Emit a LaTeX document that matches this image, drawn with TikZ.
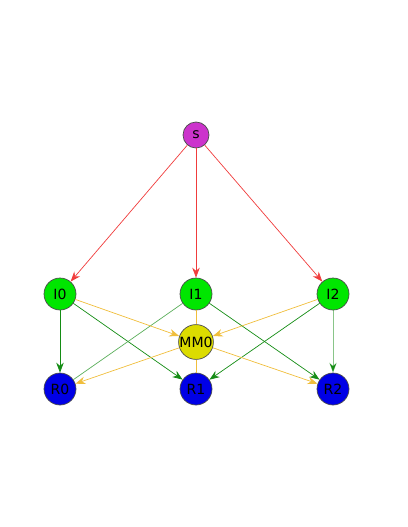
\documentclass[tikz,border=0pt]{standalone}
\usepackage{fontspec}
\setmainfont{DejaVu Sans}
\usepackage{tikz}
\usetikzlibrary{arrows.meta}
\definecolor{srcpurple}{RGB}{204,51,204}
\definecolor{intgreen}{RGB}{0,230,0}
\definecolor{mmyellow}{RGB}{220,220,0}
\definecolor{resblue}{RGB}{0,0,230}
\definecolor{edgered}{RGB}{240,60,60}
\definecolor{edgegreen}{RGB}{20,140,20}
\definecolor{edgeorange}{RGB}{240,190,60}
\tikzset{
    vertex/.style={draw=black!70, circle, inner sep=0pt, minimum size=0.64cm, font=\fontsize{8}{8}\selectfont},
    redarrow/.style={edgered, -{Stealth[length=2mm, width=1.5mm]}},
    greenarrow/.style={edgegreen, -{Stealth[length=2mm, width=1.5mm]}},
    orangearrow/.style={edgeorange, -{Stealth[length=2mm, width=1.5mm]}}
}

\begin{document}
\begin{tikzpicture}[x=0.02cm, y=-0.02cm]
\useasboundingbox (0,0) rectangle (407,527);
\node[vertex, fill=srcpurple, minimum size=0.52cm] (s) at (196,135) {s};
\node[vertex, fill=intgreen] (I0) at (60,294) {I0};
\node[vertex, fill=intgreen] (I1) at (196,294) {I1};
\node[vertex, fill=intgreen] (I2) at (333,294) {I2};
\node[vertex, fill=mmyellow] (MM0) at (196,342) {MM0};
\node[vertex, fill=resblue] (R0) at (60,389) {R0};
\node[vertex, fill=resblue] (R1) at (196,389) {R1};
\node[vertex, fill=resblue] (R2) at (333,389) {R2};
\draw[redarrow] (s) -- (I0);
\draw[redarrow] (s) -- (I1);
\draw[redarrow] (s) -- (I2);
\draw[greenarrow] (I0) -- (R0);
\draw[greenarrow] (I0) -- (R1);
\draw[edgegreen!70] (I1) -- (R0);
\draw[greenarrow] (I1) -- (R2);
\draw[greenarrow] (I2) -- (R1);
\draw[greenarrow, draw opacity=0.5] (I2) -- (R2);
\draw[orangearrow] (I0) -- (MM0);
\draw[orangearrow] (I2) -- (MM0);
\draw[edgeorange] (I1) -- (MM0);
\draw[orangearrow] (MM0) -- (R0);
\draw[orangearrow] (MM0) -- (R2);
\draw[edgeorange] (MM0) -- (R1);
\end{tikzpicture}
\end{document}
